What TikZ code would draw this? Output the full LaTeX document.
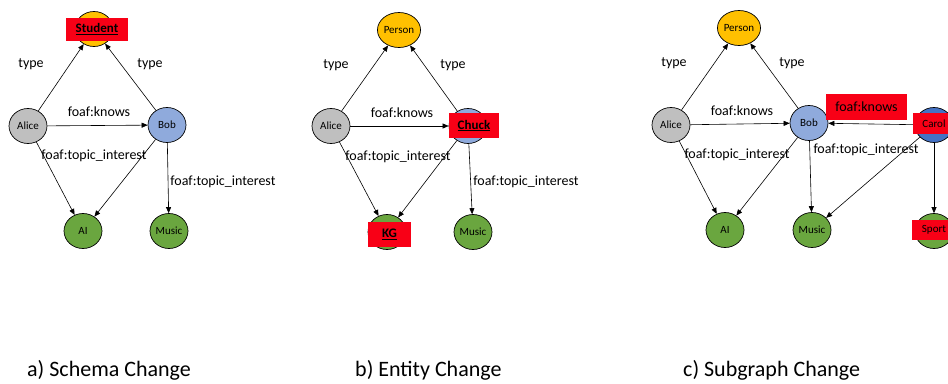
\documentclass[tikz,border=0pt]{standalone}
\usepackage{fontspec}
\setmainfont{Carlito}
\usetikzlibrary{arrows.meta,shapes.geometric}
\definecolor{persongold}{HTML}{FFC000}
\definecolor{alicegray}{HTML}{BFBFBF}
\definecolor{bobblue}{HTML}{8FAADC}
\definecolor{carolblue}{HTML}{4472C4}
\definecolor{topicgreen}{HTML}{6AA63F}
\definecolor{hlred}{HTML}{F80016}
\begin{document}
\begin{tikzpicture}[x=1pt,y=-1pt,
  ent/.style={ellipse,draw=black,line width=0.7pt,minimum width=38pt,minimum height=35pt,inner sep=0pt,font=\fontsize{11}{13}\selectfont},
  redbox/.style={fill=hlred,inner sep=0pt,font=\fontsize{13}{15}\selectfont\bfseries},
  elab/.style={font=\fontsize{14}{16}\selectfont,inner sep=0pt},
  rel/.style={-{Triangle[length=6pt,width=5pt]},line width=0.6pt},
  captext/.style={font=\fontsize{22}{26}\selectfont,anchor=west,inner sep=0pt}]
\useasboundingbox (0,0) rectangle (948,383);

% ---------- panel a ----------
\node[ent,fill=persongold] (sa) at (94,29) {};
\node[ent,fill=alicegray] (aa) at (28,126) {Alice};
\node[ent,fill=bobblue] (ba) at (167,125) {Bob};
\node[ent,fill=topicgreen] (aia) at (83,231) {AI};
\node[ent,fill=topicgreen] (ma) at (169,231) {Music};
\draw[rel] (aa) -- (sa);
\draw[rel] (ba) -- (sa);
\draw[rel] (aa) -- (ba);
\draw[rel] (aa) -- (aia);
\draw[rel] (ba) -- (aia);
\draw[rel] (ba) -- (ma);
\node[redbox,minimum width=62pt,minimum height=23pt] (sal) at (97,29) {\underline{Student}};
\node[elab] (ta1) at (31,64) {type};
\node[elab] (ta2) at (150,64) {type};
\node[elab] (ka) at (99,112) {foaf:knows};
\node[elab] (ia1) at (94,156) {foaf:topic\_interest};
\node[elab] (ia2) at (223,182) {foaf:topic\_interest};

% ---------- panel b ----------
\node[ent,fill=persongold] (pb) at (399,30) {Person};
\node[ent,fill=alicegray] (ab) at (331,126) {Alice};
\node[ent,fill=bobblue] (cb) at (468,126) {};
\node[ent,fill=topicgreen] (kb) at (387,232) {};
\node[ent,fill=topicgreen] (mb) at (473,232) {Music};
\draw[rel] (ab) -- (pb);
\draw[rel] (cb) -- (pb);
\draw[rel] (ab) -- (cb);
\draw[rel] (ab) -- (kb);
\draw[rel] (cb) -- (kb);
\draw[rel] (cb) -- (mb);
\node[redbox,minimum width=50pt,minimum height=25pt] (cbl) at (474,125.5) {\underline{Chuck}};
\node[redbox,minimum width=43pt,minimum height=25pt] (kbl) at (389.5,234.5) {\underline{KG}};
\node[elab] (tb1) at (336,65) {type};
\node[elab] (tb2) at (453,65) {type};
\node[elab] (kbk) at (402,113) {foaf:knows};
\node[elab] (ib1) at (398,157) {foaf:topic\_interest};
\node[elab] (ib2) at (526,182) {foaf:topic\_interest};

% ---------- panel c ----------
\node[ent,fill=persongold] (pc) at (739,28) {Person};
\node[ent,fill=alicegray] (ac) at (671,125) {Alice};
\node[ent,fill=bobblue] (bc) at (809,123) {Bob};
\node[ent,fill=carolblue] (cc) at (934,125) {};
\node[ent,fill=topicgreen] (aic) at (725,230) {AI};
\node[ent,fill=topicgreen] (mc) at (812,230) {Music};
\node[ent,fill=topicgreen] (sc) at (934,231) {};
\draw[rel] (ac) -- (pc);
\draw[rel] (bc) -- (pc);
\draw[rel] (ac) -- (bc);
\draw[rel] (ac) -- (aic);
\draw[rel] (bc) -- (aic);
\draw[rel] (bc) -- (mc);
\draw[rel] (cc) -- (bc);
\draw[rel] (cc) -- (mc);
\draw[rel] (cc) -- (sc);
\node[redbox,font=\fontsize{11}{13}\selectfont,minimum width=42pt,minimum height=21pt] (ccl) at (934,123.5) {Carol};
\node[redbox,font=\fontsize{11}{13}\selectfont,minimum width=44pt,minimum height=20pt] (scl) at (934,230) {Sport};
\node[redbox,font=\fontsize{14}{16}\selectfont,minimum width=81pt,minimum height=26pt] (kcr) at (866.5,107) {foaf:knows};
\node[elab] (tc1) at (674,63) {type};
\node[elab] (tc2) at (792,63) {type};
\node[elab] (kck) at (742,111) {foaf:knows};
\node[elab] (ic1) at (737,155) {foaf:topic\_interest};
\node[elab] (ic2) at (866,150) {foaf:topic\_interest};

% ---------- captions ----------
\node[captext] (capa) at (27,370) {a) Schema Change};
\node[captext] (capb) at (355,370) {b) Entity Change};
\node[captext] (capc) at (683,370) {c) Subgraph Change};
\end{tikzpicture}
\end{document}
